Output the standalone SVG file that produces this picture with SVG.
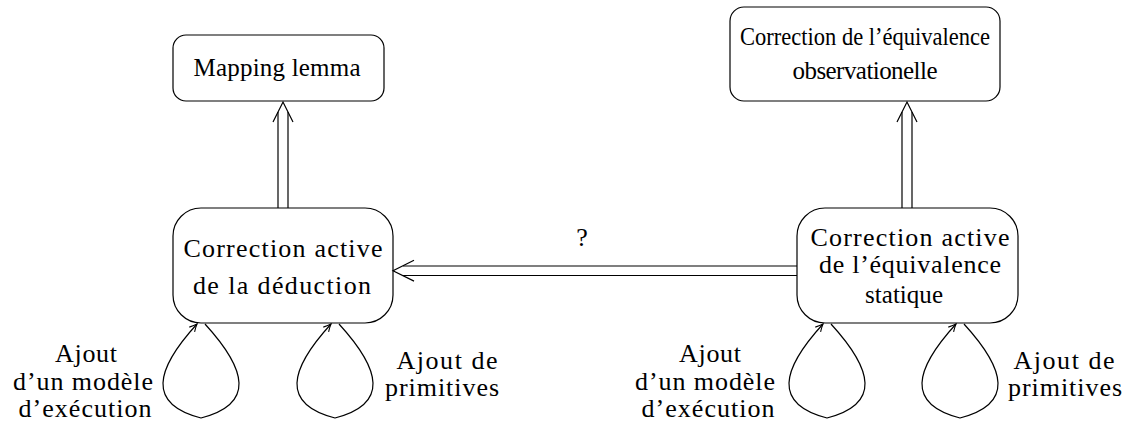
<svg xmlns="http://www.w3.org/2000/svg" width="1130" height="421" viewBox="0 0 1130 421">
<style>
.box{fill:#fff;stroke:#000;stroke-width:1.2}
.t{font-family:"Liberation Serif","Times New Roman",serif;font-size:26px;fill:#000;text-anchor:middle}
.tt{font-family:"Liberation Serif","Times New Roman",serif;font-size:25px;fill:#000;text-anchor:middle}
.ts{font-size:25px}
.ln{fill:none;stroke:#000;stroke-width:1.2}
</style>
<defs>
<marker id="ah" markerUnits="userSpaceOnUse" markerWidth="12" markerHeight="12" refX="0" refY="0" viewBox="-10 -6 12 12" orient="auto" overflow="visible">
<path d="M -7.5 -3.6 Q -3 -1 0 0 Q -3 1 -7.5 3.6" fill="none" stroke="#000" stroke-width="1.1"/>
</marker>
</defs>
<rect width="1130" height="421" fill="#fff"/>
<g id="mapping">
<rect class="box" x="173" y="35" width="211" height="66" rx="13"/>
<text class="tt" x="277" y="76" textLength="167">Mapping lemma</text>
</g>
<g id="obs">
<rect class="box" x="730" y="7" width="270" height="94" rx="14"/>
<text class="t ts" x="865" y="45" textLength="250" lengthAdjust="spacingAndGlyphs">Correction de l’équivalence</text>
<text class="t ts" x="865" y="79" textLength="145">observationelle</text>
</g>
<g id="deduction">
<rect class="box" x="173" y="208" width="220" height="115" rx="28"/>
<text class="t" x="283" y="257" textLength="199">Correction active</text>
<text class="t" x="282" y="294" textLength="178">de la déduction</text>
</g>
<g id="statique">
<rect class="box" x="797" y="208" width="221" height="115" rx="28"/>
<text class="t" x="910" y="246" textLength="199">Correction active</text>
<text class="t" x="910" y="273" textLength="182">de l’équivalence</text>
<text class="tt" x="904" y="303" textLength="78">statique</text>
</g>
<g id="labels">
<text class="t" x="86" y="362" textLength="62">Ajout</text>
<text class="t" x="83" y="390" textLength="140">d’un modèle</text>
<text class="t" x="85" y="417" textLength="133">d’exécution</text>
<text class="t" x="447" y="369" textLength="101">Ajout de</text>
<text class="t" x="442" y="396" textLength="114">primitives</text>
<text class="t" x="710" y="362" textLength="62">Ajout</text>
<text class="t" x="705" y="390" textLength="140">d’un modèle</text>
<text class="t" x="708" y="417" textLength="133">d’exécution</text>
<text class="t" x="1064" y="369" textLength="101">Ajout de</text>
<text class="t" x="1065" y="396" textLength="114">primitives</text>
</g>
<g id="connectors">
<g id="e1">
<line class="ln" x1="278" y1="208" x2="278" y2="112"/>
<line class="ln" x1="288" y1="208" x2="288" y2="112"/>
<path class="ln" d="M 273 122 L 283 102 L 293 122"/>
</g>
<g id="e2">
<line class="ln" x1="902" y1="208" x2="902" y2="112"/>
<line class="ln" x1="912" y1="208" x2="912" y2="112"/>
<path class="ln" d="M 897 122 L 907 102 L 917 122"/>
</g>
<g id="e3">
<line class="ln" x1="797" y1="266" x2="403" y2="266"/>
<line class="ln" x1="797" y1="275.5" x2="403" y2="275.5"/>
<path class="ln" d="M 414 260.3 L 393 270.7 L 414 281.1"/>
<text class="t" x="582" y="246">?</text>
</g>
<g id="loops">
<path class="ln" marker-end="url(#ah)" d="M 4 0 C 46 46 54 80 0 94 C -54 80 -46 46 -4 0" transform="translate(201,324)"/>
<path class="ln" marker-end="url(#ah)" d="M 4 0 C 46 46 54 80 0 94 C -54 80 -46 46 -4 0" transform="translate(335,324)"/>
<path class="ln" marker-end="url(#ah)" d="M 4 0 C 46 46 54 80 0 94 C -54 80 -46 46 -4 0" transform="translate(827,324)"/>
<path class="ln" marker-end="url(#ah)" d="M 4 0 C 46 46 54 80 0 94 C -54 80 -46 46 -4 0" transform="translate(960,324)"/>
</g>
</g>
</svg>
